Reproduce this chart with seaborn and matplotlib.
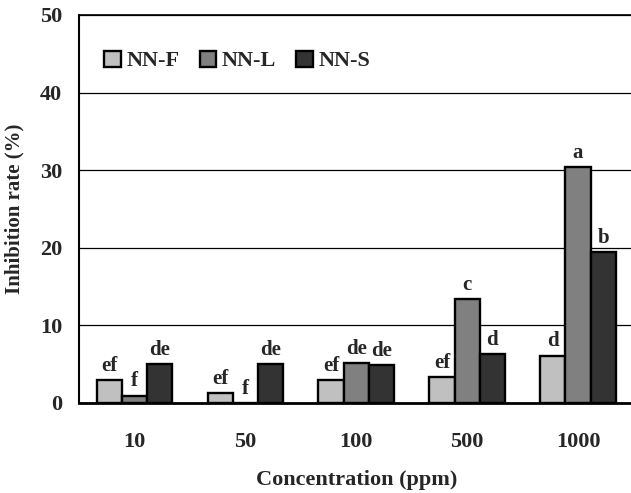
import pandas as pd
import numpy as np
import matplotlib
matplotlib.use("Agg")
import matplotlib.pyplot as plt
import seaborn as sns

# data
concentrations = ['10', '50', '100', '500', '1000']
series = ['NN-F', 'NN-L', 'NN-S']
nn_f = [2.9, 1.3, 3.0, 3.3, 6.1]
nn_l = [0.95, 0.0, 5.1, 13.4, 30.4]
nn_s = [5.0, 5.0, 4.9, 6.3, 19.4]
letters_f = ['ef', 'ef', 'ef', 'ef', 'd']
letters_l = ['f', 'f', 'de', 'c', 'a']
letters_s = ['de', 'de', 'de', 'd', 'b']
colors = ['#c0c0c0', '#808080', '#333333']

df = pd.DataFrame({
    'conc': concentrations * 3,
    'group': np.repeat(series, len(concentrations)),
    'rate': nn_f + nn_l + nn_s,
})

sns.set_style('white')
plt.rcParams['font.family'] = ['Liberation Serif', 'DejaVu Serif']
plt.rcParams['font.weight'] = 'bold'

fig = plt.figure(figsize=(6.31, 4.93), dpi=100)
ax = fig.add_axes([0.125, 0.1826, 0.879, 0.787])

sns.barplot(data=df, x='conc', y='rate', hue='group', order=concentrations,
            hue_order=series, palette=colors, width=0.68, edgecolor='black',
            linewidth=1.7, saturation=1, ax=ax, zorder=3)

# letters above the bars
for cont, labs in zip(ax.containers, [letters_f, letters_l, letters_s]):
    ax.bar_label(cont, labels=labs, padding=3, fontsize=15, fontweight='bold')

ax.set_ylim(0, 50)
ax.set_xlim(-0.5, 4.5)
ax.set_yticks([0, 10, 20, 30, 40, 50])
ax.yaxis.grid(True, color='black', linewidth=0.9, zorder=0)
ax.tick_params(axis='y', length=0, pad=12, labelsize=16)
ax.tick_params(axis='x', which='major', length=0, pad=21, labelsize=16)
ax.set_xticks([0.5, 1.5, 2.5, 3.5], minor=True)
ax.tick_params(axis='x', which='minor', direction='in', length=6, width=1.5, color='black')
for t in ax.get_xticklabels() + ax.get_yticklabels():
    t.set_fontweight('bold')

ax.set_xlabel('Concentration (ppm)', fontsize=16, fontweight='bold', labelpad=13)
ax.set_ylabel('Inhibition rate (%)', fontsize=15, fontweight='bold', labelpad=11)

for s in ['left', 'bottom', 'top', 'right']:
    ax.spines[s].set_color('black')
ax.spines['left'].set_linewidth(1.5)
ax.spines['bottom'].set_linewidth(2)
ax.spines['top'].set_linewidth(1.2)

handles, labels = ax.get_legend_handles_labels()
ax.legend(handles, labels, ncol=3, frameon=False, loc='upper left',
          bbox_to_anchor=(0.01, 0.96), handlelength=0.75, handleheight=0.75,
          handletextpad=0.25, columnspacing=0.9, prop={'size': 16, 'weight': 'bold'})

fig.savefig('out.png', dpi=100)
